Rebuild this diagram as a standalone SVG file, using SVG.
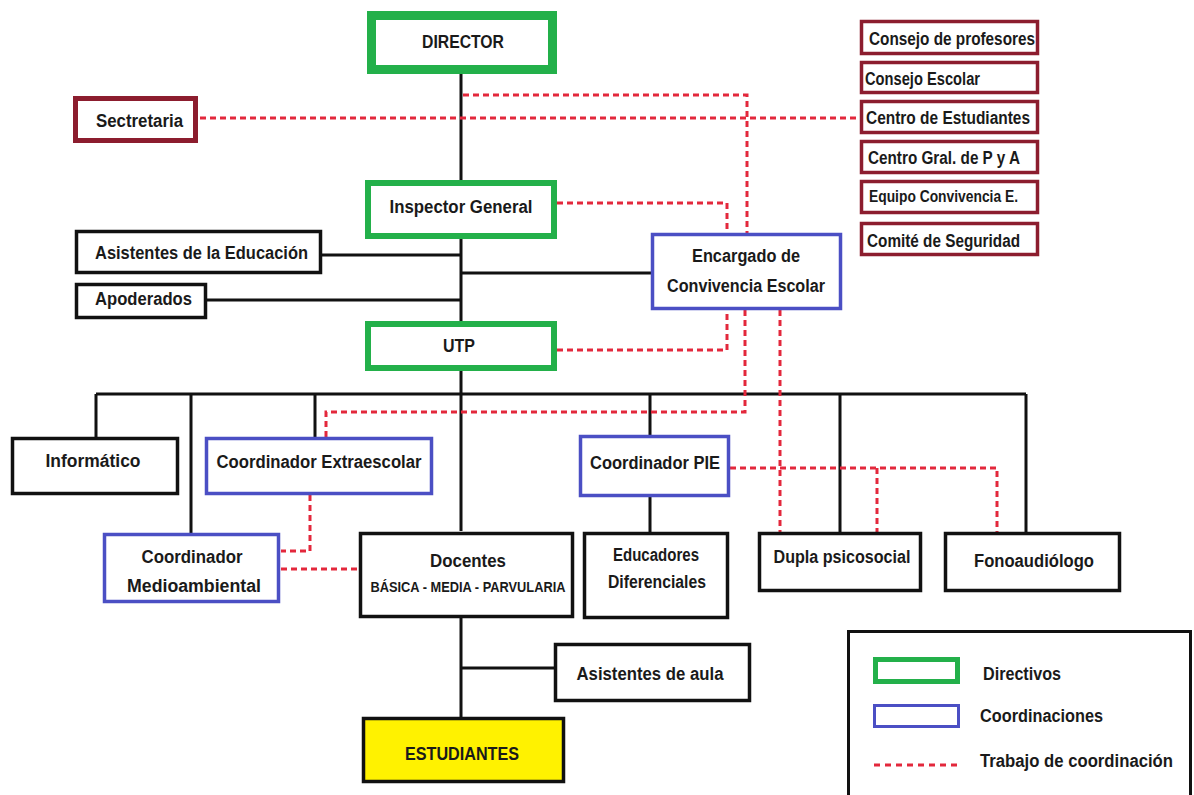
<svg xmlns="http://www.w3.org/2000/svg" width="1194" height="795" viewBox="0 0 1194 795">
<style>
text{font-family:"Liberation Sans Narrow","Liberation Sans",Arial,sans-serif;font-weight:bold;font-size:18px;fill:#1a1a1a;lengthAdjust:spacingAndGlyphs}
.c{text-anchor:middle}
.sm{font-size:14px}
.eq{font-size:16px}
.box{fill:#fff;stroke:#111;stroke-width:3.5}
.dir{fill:#fff;stroke:#23b04a;stroke-width:6}
.coord{fill:#fff;stroke:#4b4fc4;stroke-width:3.5}
.ext{fill:#fff;stroke:#8c1d2e;stroke-width:3.5}
.ln{fill:none;stroke:#111;stroke-width:3}
.dash{fill:none;stroke:#e3283c;stroke-width:3;stroke-dasharray:6 4}
</style>
<rect x="0" y="0" width="1194" height="795" fill="#fff"/>
<g id="connectors">
<path class="ln" d="M461 74V531 M461 273H652 M322 255H461 M207 300H461 M96 394H1026 M96 394V437 M191 394V533 M315 394V437 M650 394V436 M840 394V533 M1026 394V533 M650 497V533 M461 618V718 M461 668H555"/>
<path class="dash" d="M200 118H861 M463 95H747V234 M557 203H727V234 M557 350H727V310 M745 310V412H326V437 M780 310V533 M730 468H997V533 M877 468V533 M310 495V551H281 M281 569H359"/>
</g>
<g id="director"><rect class="dir" style="stroke-width:9" x="371.5" y="15.5" width="181" height="54"/><text class="c" x="463" y="48" textLength="82" lengthAdjust="spacingAndGlyphs">DIRECTOR</text></g>
<g id="secretaria"><rect class="ext" style="stroke-width:5" x="75.5" y="98.5" width="120" height="42"/><text x="96" y="127" textLength="87" lengthAdjust="spacingAndGlyphs">Sectretaria</text></g>
<g id="consejo-profesores"><rect class="ext" x="861.5" y="21.5" width="176" height="32"/><text x="869" y="45" textLength="166" lengthAdjust="spacingAndGlyphs">Consejo de profesores</text></g>
<g id="consejo-escolar"><rect class="ext" x="861.5" y="62.5" width="176" height="30"/><text x="865" y="85" textLength="115" lengthAdjust="spacingAndGlyphs">Consejo Escolar</text></g>
<g id="centro-estudiantes"><rect class="ext" x="861.5" y="101.5" width="176" height="31"/><text x="866" y="124" textLength="164" lengthAdjust="spacingAndGlyphs">Centro de Estudiantes</text></g>
<g id="centro-gral"><rect class="ext" x="861.5" y="141.5" width="176" height="31"/><text x="868" y="164" textLength="152" lengthAdjust="spacingAndGlyphs">Centro Gral. de P y A</text></g>
<g id="equipo-convivencia"><rect class="ext" x="861.5" y="181.5" width="176" height="31"/><text class="eq" x="869" y="202" textLength="149" lengthAdjust="spacingAndGlyphs">Equipo Convivencia E.</text></g>
<g id="comite-seguridad"><rect class="ext" x="861.5" y="223.5" width="176" height="31"/><text x="867" y="247" textLength="153" lengthAdjust="spacingAndGlyphs">Comité de Seguridad</text></g>
<g id="inspector"><rect class="dir" x="368" y="183" width="186" height="53"/><text class="c" x="461" y="213" textLength="143" lengthAdjust="spacingAndGlyphs">Inspector General</text></g>
<g id="asistentes-educacion"><rect class="box" x="76.5" y="231.5" width="244" height="41"/><text x="95" y="259" textLength="213" lengthAdjust="spacingAndGlyphs">Asistentes de la Educación</text></g>
<g id="apoderados"><rect class="box" x="76.5" y="284.5" width="129" height="33"/><text x="95" y="305" textLength="97" lengthAdjust="spacingAndGlyphs">Apoderados</text></g>
<g id="encargado"><rect class="coord" x="652.5" y="234.5" width="188" height="74"/><text class="c" x="746" y="262" textLength="108" lengthAdjust="spacingAndGlyphs">Encargado de</text><text class="c" x="746" y="292" textLength="158" lengthAdjust="spacingAndGlyphs">Convivencia Escolar</text></g>
<g id="utp"><rect class="dir" x="368" y="324" width="186" height="44"/><text class="c" x="459" y="352" textLength="32" lengthAdjust="spacingAndGlyphs">UTP</text></g>
<g id="informatico"><rect class="box" x="12.5" y="438.5" width="165" height="55"/><text class="c" x="93" y="467" textLength="95" lengthAdjust="spacingAndGlyphs">Informático</text></g>
<g id="extraescolar"><rect class="coord" x="206.5" y="438.5" width="225" height="55"/><text class="c" x="319" y="468" textLength="205" lengthAdjust="spacingAndGlyphs">Coordinador Extraescolar</text></g>
<g id="pie"><rect class="coord" x="580.5" y="436.5" width="148" height="59"/><text class="c" x="655" y="469" textLength="130" lengthAdjust="spacingAndGlyphs">Coordinador PIE</text></g>
<g id="medioambiental"><rect class="coord" x="104.5" y="534.5" width="174" height="67"/><text class="c" x="192" y="563" textLength="101" lengthAdjust="spacingAndGlyphs">Coordinador</text><text class="c" x="194" y="592" textLength="134" lengthAdjust="spacingAndGlyphs">Medioambiental</text></g>
<g id="docentes"><rect class="box" x="360.5" y="533.5" width="212" height="83"/><text class="c" x="468" y="567" textLength="76" lengthAdjust="spacingAndGlyphs">Docentes</text><text class="c sm" x="468" y="592" textLength="195" lengthAdjust="spacingAndGlyphs">BÁSICA - MEDIA - PARVULARIA</text></g>
<g id="educadores"><rect class="box" x="584.5" y="533.5" width="143" height="84"/><text class="c" x="656" y="561" textLength="86" lengthAdjust="spacingAndGlyphs">Educadores</text><text class="c" x="657" y="588" textLength="98" lengthAdjust="spacingAndGlyphs">Diferenciales</text></g>
<g id="dupla"><rect class="box" x="759.5" y="533.5" width="161" height="57"/><text class="c" x="842" y="563" textLength="137" lengthAdjust="spacingAndGlyphs">Dupla psicosocial</text></g>
<g id="fono"><rect class="box" x="945.5" y="533.5" width="174" height="57"/><text class="c" x="1034" y="567" textLength="120" lengthAdjust="spacingAndGlyphs">Fonoaudiólogo</text></g>
<g id="asistentes-aula"><rect class="box" x="555.5" y="644.5" width="194" height="56"/><text class="c" x="650" y="680" textLength="147" lengthAdjust="spacingAndGlyphs">Asistentes de aula</text></g>
<g id="estudiantes"><rect class="box" style="fill:#fff200" x="363.5" y="718.5" width="200" height="63"/><text class="c" x="462" y="760" textLength="114" lengthAdjust="spacingAndGlyphs">ESTUDIANTES</text></g>
<g id="legend">
<rect class="box" style="stroke-width:3" x="848.5" y="631.5" width="342" height="200"/>
<rect class="dir" style="stroke-width:5" x="875.5" y="659.5" width="82" height="22"/>
<rect class="coord" style="stroke-width:3" x="874.5" y="705.5" width="84" height="21"/>
<path class="dash" style="stroke-dasharray:6 5" d="M874 765H961"/>
<text x="983" y="680" textLength="78" lengthAdjust="spacingAndGlyphs">Directivos</text>
<text x="980" y="722" textLength="123" lengthAdjust="spacingAndGlyphs">Coordinaciones</text>
<text x="980" y="767" textLength="193" lengthAdjust="spacingAndGlyphs">Trabajo de coordinación</text>
</g>
</svg>
